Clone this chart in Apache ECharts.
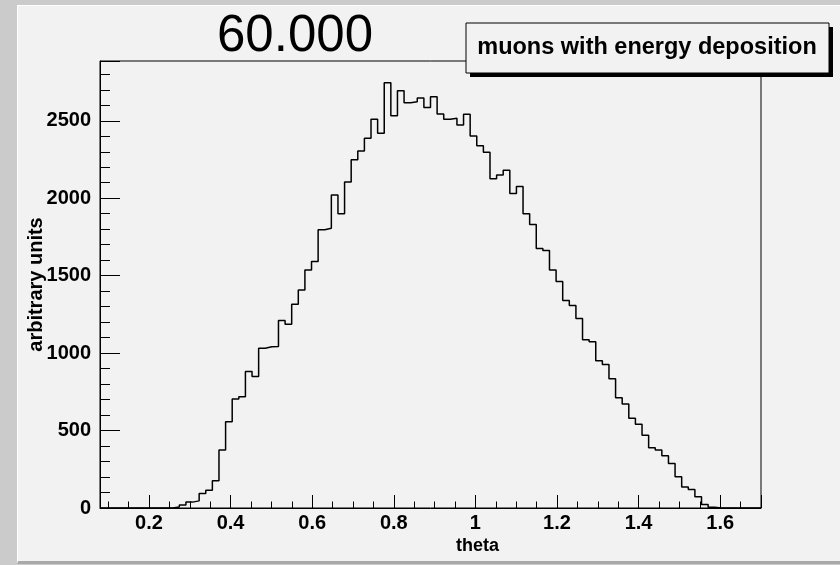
<!DOCTYPE html>
<html>
<head>
<meta charset="utf-8">
<script src="https://cdn.jsdelivr.net/npm/echarts@6/dist/echarts.min.js"></script>
<style>
  html, body { margin: 0; padding: 0; background: #cbcbcb; }
  #wrap { position: relative; width: 840px; height: 565px; overflow: hidden; background: #cbcbcb; }
  #pad {
    position: absolute; left: 17px; top: 5px; width: 823px; height: 559px;
    background: #f2f2f2; box-sizing: border-box;
    border-top: 1px solid #fff; border-left: 1px solid #fff; border-bottom: 3px solid #a9a9a9;
  }
  #chart { position: absolute; left: 0; top: 0; width: 840px; height: 565px; }
</style>
</head>
<body>
<div id="wrap">
  <div id="pad"></div>
  <div id="chart"></div>
</div>
<script>
// histogram: 100 bins of theta between xMin and xMax
const xMin = 0.08
const xMax = 1.70
const yMax = 2886
const counts = [
  0, 0, 0, 0, 0, 0, 0, 0, 0, 0,
  0, 6, 20, 38, 46, 94, 114, 176, 374, 557,
  703, 718, 881, 849, 1032, 1041, 1043, 1210, 1187, 1316,
  1408, 1537, 1591, 1797, 1806, 2021, 1899, 2105, 2249, 2305,
  2387, 2510, 2419, 2746, 2533, 2694, 2617, 2623, 2647, 2585,
  2655, 2544, 2510, 2516, 2473, 2542, 2402, 2339, 2297, 2126,
  2150, 2181, 2030, 2075, 1899, 1830, 1675, 1662, 1537, 1462,
  1339, 1307, 1223, 1086, 1073, 950, 926, 835, 712, 672,
  579, 540, 470, 389, 374, 337, 288, 201, 135, 120,
  72, 23, 5, 0, 0, 0, 0, 0, 0, 0,
]
const titleText = '60.000'
const seriesName = 'muons with energy deposition'
const xName = 'theta'
const yName = 'arbitrary units'

const font = '"Liberation Sans", Arial, Helvetica, sans-serif'
const binWidth = (xMax - xMin) / counts.length
// step line: left edge of each bin, plus the closing right edge
const steps = counts.map((c, i) => [xMin + i * binWidth, c])
steps.push([xMax, counts[counts.length - 1]])

const black = { color: '#000', width: 1 }

const chart = echarts.init(document.getElementById('chart'))
chart.setOption({
  animation: false,
  grid: {
    left: 100, top: 61, right: 79, bottom: 57,
    show: true, borderColor: '#000', borderWidth: 1,
    backgroundColor: 'transparent',
    outerBoundsMode: 'none',
  },
  xAxis: {
    type: 'value',
    min: xMin,
    max: xMax,
    splitNumber: 8,
    name: xName,
    nameLocation: 'middle',
    nameGap: 29,
    nameMoveOverlap: false,
    nameTextStyle: { fontFamily: font, fontWeight: 'bold', fontSize: 18, color: '#000', padding: [0, 0, 0, 94] },
    axisLine: { show: true, onZero: false, lineStyle: black },
    axisTick: { show: true, inside: true, length: 13, lineStyle: black },
    minorTick: { show: true, splitNumber: 4, length: 6.5, lineStyle: black },
    axisLabel: {
      showMinLabel: false, showMaxLabel: false, margin: 5,
      formatter: v => String(+v.toFixed(2)),
      fontFamily: font, fontWeight: 'bold', fontSize: 20, color: '#000',
    },
    splitLine: { show: false },
    minorSplitLine: { show: false },
  },
  yAxis: {
    type: 'value',
    min: 0,
    max: yMax,
    interval: 500,
    name: yName,
    nameLocation: 'middle',
    nameGap: 54,
    nameMoveOverlap: false,
    nameTextStyle: { fontFamily: font, fontWeight: 'bold', fontSize: 20, color: '#000' },
    axisLine: { show: true, lineStyle: black },
    axisTick: { show: true, inside: true, length: 20, lineStyle: black },
    minorTick: { show: true, splitNumber: 5, length: 10, lineStyle: black },
    axisLabel: {
      showMaxLabel: false, margin: 9,
      formatter: v => String(v),
      fontFamily: font, fontWeight: 'bold', fontSize: 20, color: '#000',
    },
    splitLine: { show: false },
    minorSplitLine: { show: false },
  },
  graphic: [
    {
      type: 'text', x: 295, y: 37, z: 100,
      style: { text: titleText, font: '51px ' + font, fill: '#000', align: 'center', verticalAlign: 'middle' },
    },
    {
      type: 'rect', z: 100,
      shape: { x: 470, y: 27, width: 363, height: 50 },
      style: { fill: '#000' },
    },
    {
      type: 'rect', z: 101,
      shape: { x: 466, y: 23, width: 363, height: 50 },
      style: { fill: '#f2f2f2', stroke: '#000', lineWidth: 1 },
    },
    {
      type: 'text', x: 647, y: 48, z: 102,
      style: { text: seriesName, font: 'bold 23.5px ' + font, fill: '#000', align: 'center', verticalAlign: 'middle' },
    },
  ],
  series: [{
    name: seriesName,
    type: 'line',
    step: 'end',
    data: steps,
    symbol: 'none',
    showSymbol: false,
    lineStyle: { color: '#000', width: 1.5 },
  }],
})
</script>
</body>
</html>
